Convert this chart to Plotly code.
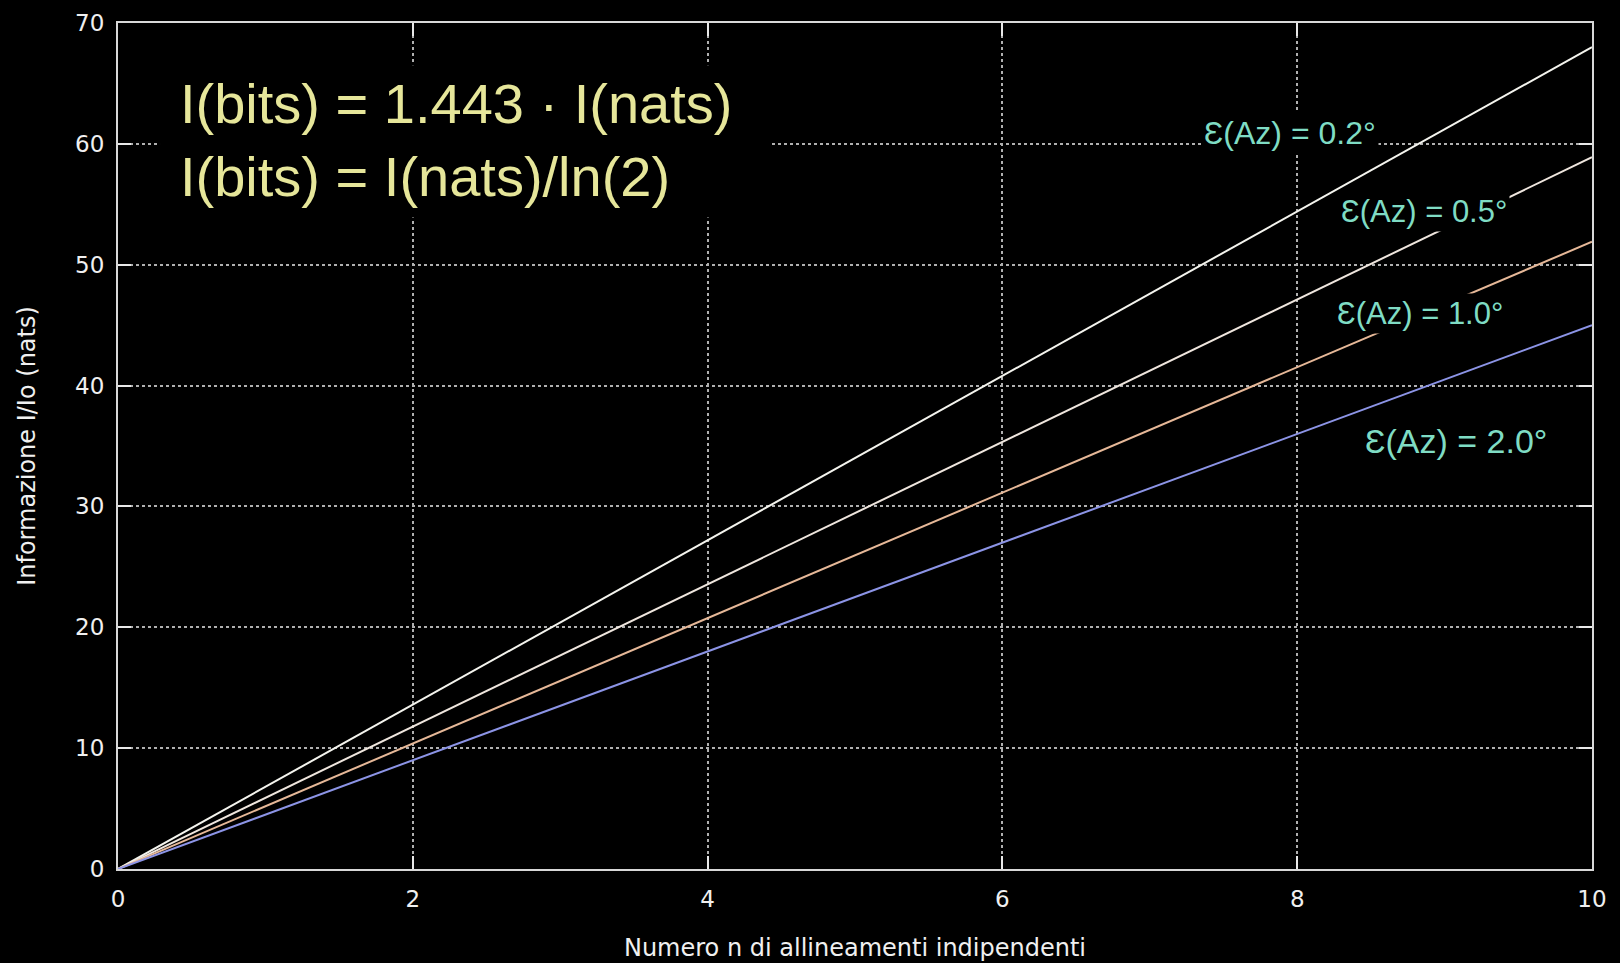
import plotly.graph_objects as go

# Number of independent alignments (straight lines from the origin)
n_values = [0, 10]

# Information I/Io (nats) for each azimuth error
info_eps_02 = [0, 68.0]
info_eps_05 = [0, 58.9]
info_eps_10 = [0, 51.9]
info_eps_20 = [0, 45.0]

series_labels = ["Ɛ(Az) = 0.2°", "Ɛ(Az) = 0.5°", "Ɛ(Az) = 1.0°", "Ɛ(Az) = 2.0°"]
series_values = [info_eps_02, info_eps_05, info_eps_10, info_eps_20]
series_colors = ["#f4f4ee", "#efe6de", "#e6b898", "#8c94e6"]

# label anchor positions (data coordinates) and font sizes
label_x = [7.95, 8.86, 8.83, 9.08]
label_y = [60.9, 54.4, 46.0, 35.4]
label_size = [32, 31, 31, 34]

x_ticks = [0, 2, 4, 6, 8, 10]
y_ticks = [0, 10, 20, 30, 40, 50, 60, 70]

fig = go.Figure()
for name, ys, col in zip(series_labels, series_values, series_colors):
    fig.add_trace(go.Scatter(
        x=n_values, y=ys, mode="lines", name=name,
        line=dict(color=col, width=2), showlegend=False,
    ))

for name, lx, ly, fs in zip(series_labels, label_x, label_y, label_size):
    fig.add_annotation(
        x=lx, y=ly, xref="x", yref="y", text=name, showarrow=False,
        font=dict(family="Liberation Sans, Arial, sans-serif", size=fs, color="#7fdcc4"),
        bgcolor="black", borderpad=2,
    )

# black panel behind the conversion formulas (hides grid lines there)
fig.add_shape(
    type="rect", xref="x", yref="y", x0=0.285, x1=4.42, y0=53.9, y1=66.5,
    fillcolor="black", line=dict(width=0), layer="above",
)
fig.add_annotation(
    x=0.41, y=60.3, xref="x", yref="y", xanchor="left", yanchor="middle",
    align="left", showarrow=False,
    text="I(bits) = 1.443 · I(nats)<br>I(bits) = I(nats)/ln(2)",
    font=dict(family="Liberation Sans, Arial, sans-serif", size=56, color="#e6e69a"),
)

axis_common = dict(
    showline=True, linecolor="#d8d8d8", linewidth=2, mirror="allticks",
    ticks="inside", ticklen=13, tickwidth=2, tickcolor="#e8e8e8",
    showgrid=True, gridcolor="#b0b0b0", gridwidth=2, griddash="dot",
    zeroline=False, automargin=False,
    tickfont=dict(family="DejaVu Sans, Verdana, sans-serif", size=23, color="#f0f0f0"),
    title_font=dict(family="DejaVu Sans, Verdana, sans-serif", size=24, color="#f0f0f0"),
)

fig.update_xaxes(
    range=[0, 10], tickvals=x_ticks, ticklabelstandoff=8,
    title_text="Numero n di allineamenti indipendenti", title_standoff=29,
    **axis_common,
)
fig.update_yaxes(
    range=[0, 70], tickvals=y_ticks, ticklabelstandoff=7,
    title_text="Informazione I/Io (nats)", title_standoff=33,
    **axis_common,
)

fig.update_layout(
    width=1620, height=963,
    paper_bgcolor="black", plot_bgcolor="black",
    margin=dict(l=118, r=28, t=23, b=94),
)

fig.write_html("out.html")
